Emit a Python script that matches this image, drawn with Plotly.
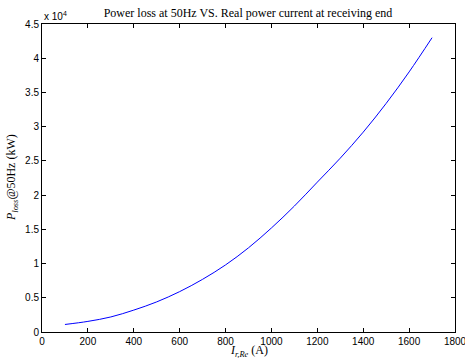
import plotly.graph_objects as go

current_A = [100, 200, 300, 400, 500, 600, 700, 800, 900, 1000, 1100, 1200, 1300, 1400, 1500, 1600, 1700]
ploss_kW = [1100, 1550, 2200, 3200, 4400, 5900, 7700, 9800, 12300, 15200, 18400, 21900, 25400, 29200, 33400, 38000, 43000]

x_ticks = [0, 200, 400, 600, 800, 1000, 1200, 1400, 1600, 1800]
y_ticks = [0, 5000, 10000, 15000, 20000, 25000, 30000, 35000, 40000, 45000]
y_tick_text = ["0", "0.5", "1", "1.5", "2", "2.5", "3", "3.5", "4", "4.5"]

fig = go.Figure()
fig.add_trace(go.Scatter(x=current_A, y=ploss_kW, mode="lines", line_shape="spline",
                         line=dict(color="#0000ff", width=1), showlegend=False))

axis_common = dict(showline=True, linecolor="black", linewidth=1, mirror="ticks",
                   ticks="inside", ticklen=4, tickcolor="black", showgrid=False, zeroline=False,
                   ticklabeloverflow="allow", automargin=False,
                   tickfont=dict(family="Liberation Sans, Arial, sans-serif", size=10, color="black"))

serif = "Liberation Serif, Times New Roman, serif"
L, R, T, B = 42, 10, 24, 26
W, H = 465, 358
plot_h = H - T - B
plot_w = W - L - R

fig.update_layout(
    width=W, height=H,
    margin=dict(l=L, r=R, t=T, b=B),
    paper_bgcolor="white", plot_bgcolor="white",
    title=dict(text="Power loss at 50Hz VS. Real power current at receiving end",
               font=dict(family=serif, size=12, color="black"),
               x=248 / W, xanchor="center", y=1 - 13 / H, yanchor="middle", yref="container"),
    xaxis=dict(range=[0, 1800], tickvals=x_ticks, ticklabelstandoff=0, **axis_common),
    yaxis=dict(range=[0, 45000], tickvals=y_ticks, ticktext=y_tick_text, **axis_common),
    annotations=[
        dict(text="x 10<sup>4</sup>", xref="paper", yref="paper", x=0.0, y=1.0,
             xanchor="left", yanchor="bottom", showarrow=False,
             font=dict(family="Liberation Sans, Arial, sans-serif", size=10, color="black")),
        dict(text="<i>I</i><sub><i>r,Re</i></sub> (A)", xref="paper", yref="paper",
             x=(249 - L) / plot_w, y=-(351 - (H - B)) / plot_h, xanchor="center", yanchor="middle",
             showarrow=False, font=dict(family=serif, size=12, color="black")),
        dict(text="<i>P</i><sub><i>loss</i></sub>@50Hz (kW)", xref="paper", yref="paper",
             x=-(L - 12) / plot_w, y=((H - B) - 178) / plot_h, xanchor="center", yanchor="middle",
             textangle=-90, showarrow=False, font=dict(family=serif, size=12, color="black")),
    ],
)

fig.write_html("out.html")
